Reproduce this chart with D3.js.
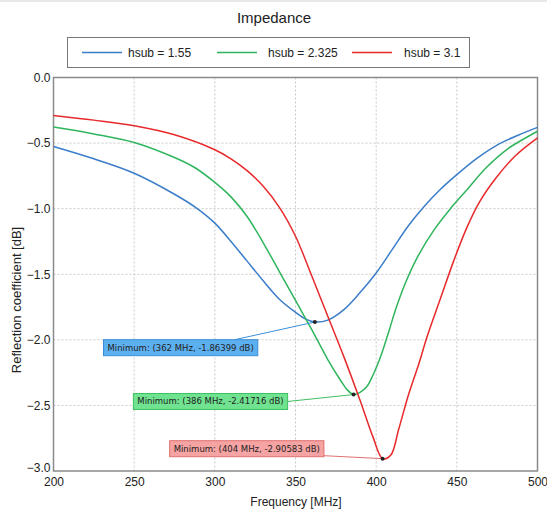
<!DOCTYPE html>
<html lang="en">
<head>
<meta charset="UTF-8">
<title>Impedance</title>
<style>
  body { margin: 0; background: #fff; }
  svg text { font-family: "Liberation Sans", Arial, sans-serif; fill: #222; }
  .note text { font-family: "DejaVu Sans", Verdana, sans-serif; }
</style>
</head>
<body>
<div id="chart"></div>
<script src="https://d3js.org/d3.v7.min.js"></script>
<script>
// series names / colours
const seriesNames = ["hsub = 1.55", "hsub = 2.325", "hsub = 3.1"];
const seriesColors = ["#3a7dc9", "#2fb55d", "#e8292b"];

// frequency [MHz] and reflection coefficient [dB]
const freqBlue = [200, 225, 250, 275, 288, 300, 310, 320, 330, 340, 350, 356, 362, 370, 380, 390, 400, 410, 420, 430, 440, 450, 462, 475, 488, 500];
const dbBlue   = [-0.526, -0.62, -0.73, -0.89, -0.99, -1.11, -1.25, -1.40, -1.55, -1.69, -1.79, -1.84, -1.86399, -1.85, -1.77, -1.64, -1.49, -1.31, -1.13, -0.98, -0.85, -0.74, -0.62, -0.515, -0.44, -0.38];

const freqGreen = [200, 225, 250, 275, 288, 300, 310, 320, 330, 340, 350, 360, 370, 378, 382, 386, 390, 394, 398, 403, 408, 412, 418, 426, 436, 446, 456, 468, 482, 500];
const dbGreen   = [-0.378, -0.43, -0.495, -0.61, -0.69, -0.80, -0.91, -1.06, -1.26, -1.48, -1.70, -1.92, -2.15, -2.31, -2.38, -2.41716, -2.40, -2.36, -2.27, -2.12, -1.93, -1.77, -1.57, -1.36, -1.16, -1.00, -0.86, -0.69, -0.54, -0.41];

const freqRed = [200, 225, 250, 275, 300, 310, 320, 330, 340, 350, 360, 370, 380, 390, 398, 404, 409, 414, 420, 426, 432, 440, 448, 456, 464, 474, 486, 500];
const dbRed   = [-0.289, -0.325, -0.368, -0.437, -0.551, -0.62, -0.71, -0.83, -0.99, -1.21, -1.51, -1.82, -2.13, -2.46, -2.74, -2.90583, -2.88, -2.68, -2.42, -2.20, -1.96, -1.68, -1.40, -1.15, -0.95, -0.77, -0.60, -0.46];

// minima markers
const minFreq = [362, 386, 404];
const minDb = [-1.86399, -2.41716, -2.90583];
const minLabels = ["Minimum: (362 MHz, -1.86399 dB)", "Minimum: (386 MHz, -2.41716 dB)", "Minimum: (404 MHz, -2.90583 dB)"];

const xTicks = [200, 250, 300, 350, 400, 450, 500];
const yTicks = [0, -0.5, -1.0, -1.5, -2.0, -2.5, -3.0];

const W = 547, H = 510;
const margin = { top: 77.5, right: 9.5, bottom: 39, left: 53.5 };

const svg = d3.select("#chart").append("svg")
  .attr("width", W)
  .attr("height", H);

const x = d3.scaleLinear().domain([200, 500]).range([margin.left, W - margin.right]);
const y = d3.scaleLinear().domain([-3, 0]).range([H - margin.bottom, margin.top]);

// thin frame line at the very top
svg.append("line")
  .attr("x1", 0).attr("x2", W).attr("y1", 1).attr("y2", 1)
  .attr("stroke", "#cfcfcf");

// title
svg.append("text")
  .attr("x", 274).attr("y", 23)
  .attr("text-anchor", "middle")
  .style("font-size", "15px")
  .text("Impedance");

// legend
const legend = svg.append("g");
legend.append("rect")
  .attr("x", 67.5).attr("y", 37.5).attr("width", 402).attr("height", 30)
  .attr("fill", "#fff").attr("stroke", "#777");
const legX = [82, 217, 352];
const legTextX = [128, 268, 404];
seriesNames.forEach((n, i) => {
  legend.append("line")
    .attr("x1", legX[i]).attr("x2", legX[i] + 40)
    .attr("y1", 52.5).attr("y2", 52.5)
    .attr("stroke", seriesColors[i]).attr("stroke-width", 1.5);
  legend.append("text")
    .attr("x", legTextX[i]).attr("y", 56.5)
    .style("font-size", "12px")
    .text(n);
});

// grid
svg.append("g").selectAll("line")
  .data(xTicks.slice(1, -1))
  .join("line")
  .attr("x1", d => x(d)).attr("x2", d => x(d))
  .attr("y1", y(0)).attr("y2", y(-3))
  .attr("stroke", "#c8c8c8").attr("stroke-dasharray", "2,2");
svg.append("g").selectAll("line")
  .data(yTicks.slice(1, -1))
  .join("line")
  .attr("x1", x(200)).attr("x2", x(500))
  .attr("y1", d => y(d)).attr("y2", d => y(d))
  .attr("stroke", "#c8c8c8").attr("stroke-dasharray", "2,2");

// axes
svg.append("g")
  .attr("transform", `translate(0,${y(-3)})`)
  .call(d3.axisBottom(x).tickValues(xTicks).tickSize(0).tickPadding(6))
  .call(g => g.select(".domain").remove())
  .selectAll("text").style("font-size", "12px").attr("fill", "#333");
svg.append("g")
  .attr("transform", `translate(${x(200)},0)`)
  .call(d3.axisLeft(y).tickValues(yTicks).tickFormat(d3.format(".1f")).tickSize(0).tickPadding(3))
  .call(g => g.select(".domain").remove())
  .selectAll("text")
  .style("font-size", "12px").attr("fill", "#333")
  .attr("dy", d => d === -3 ? "0.05em" : "0.32em");

// plot frame
svg.append("rect")
  .attr("x", x(200)).attr("y", y(0))
  .attr("width", x(500) - x(200)).attr("height", y(-3) - y(0))
  .attr("fill", "none").attr("stroke", "#8a8a8a").attr("stroke-width", 1.5);

// axis titles
svg.append("text")
  .attr("x", 296).attr("y", 506)
  .attr("text-anchor", "middle")
  .style("font-size", "12px")
  .text("Frequency [MHz]");
svg.append("text")
  .attr("transform", "translate(21,300) rotate(-90)")
  .attr("text-anchor", "middle")
  .style("font-size", "13px")
  .text("Reflection coefficient [dB]");

// curves
const line = d3.line()
  .x(d => x(d[0]))
  .y(d => y(d[1]))
  .curve(d3.curveCatmullRom.alpha(0.5));

const series = [
  d3.zip(freqBlue, dbBlue),
  d3.zip(freqGreen, dbGreen),
  d3.zip(freqRed, dbRed)
];
series.forEach((s, i) => {
  svg.append("path")
    .datum(s)
    .attr("fill", "none")
    .attr("stroke", seriesColors[i])
    .attr("stroke-width", 1.5)
    .attr("d", line);
});

// minimum annotations (box anchor in data coords, left edge / vertical middle)
const noteFreq = [231, 249.5, 272];
const noteDb = [-2.06, -2.47, -2.83];
const noteFill = ["#5db0f0", "#6fe38f", "#f5a3a3"];
const noteStroke = ["#3a8fd8", "#3cc060", "#e07070"];

minFreq.forEach((f, i) => {
  const g = svg.append("g").attr("class", "note");
  const bx = x(noteFreq[i]);
  const by = y(noteDb[i]);
  const t = g.append("text")
    .attr("x", bx + 4).attr("y", by + 3)
    .style("font-size", "8.5px")
    .attr("fill", "#1a1a1a")
    .text(minLabels[i]);
  const bw = t.node().getComputedTextLength() + 8;
  // leader line to the minimum
  const lx = i === 0 ? bx + bw * 0.85 : bx + bw;
  const ly = i === 0 ? by - 8 : (i === 1 ? by : by + 7);
  g.insert("line", "text")
    .attr("x1", lx).attr("y1", ly)
    .attr("x2", x(f)).attr("y2", y(minDb[i]))
    .attr("stroke", noteStroke[i]).attr("stroke-width", 1);
  g.insert("rect", "text")
    .attr("x", bx).attr("y", by - 8)
    .attr("width", bw).attr("height", 16)
    .attr("fill", noteFill[i]).attr("stroke", noteStroke[i]);
  svg.append("circle")
    .attr("cx", x(f)).attr("cy", y(minDb[i]))
    .attr("r", 2).attr("fill", "#222");
});
</script>
</body>
</html>
